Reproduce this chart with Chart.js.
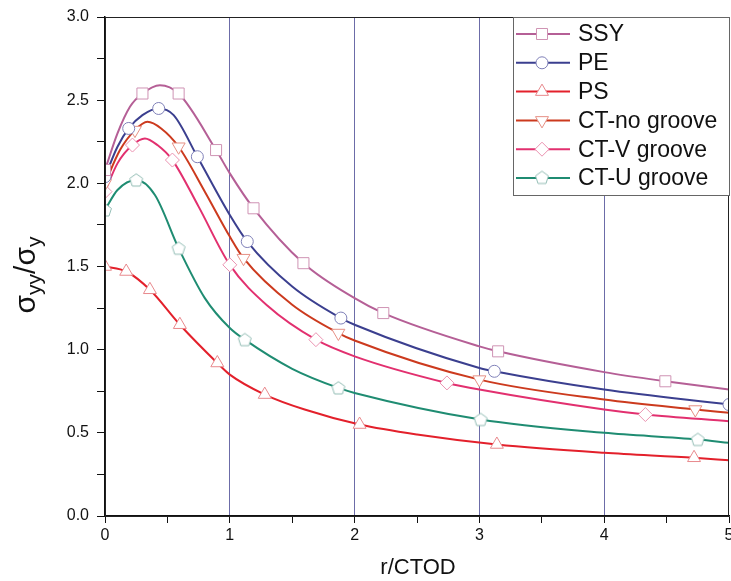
<!DOCTYPE html>
<html>
<head>
<meta charset="utf-8">
<script src="https://cdn.jsdelivr.net/npm/chart.js@4/dist/chart.umd.min.js"></script>
<style>
  html, body { margin: 0; padding: 0; background: #fff; }
  canvas { display: block; }
</style>
</head>
<body>
<canvas id="chart" width="731" height="581"></canvas>
<script>
// values (r/CTOD , sigma_yy/sigma_y)
const seriesNames = ['SSY', 'PE', 'PS', 'CT-no groove', 'CT-V groove', 'CT-U groove'];

const ssyX = [0, 0.1, 0.2, 0.3, 0.44, 0.59, 0.89, 1.0, 1.19, 1.59, 2.0, 2.23, 3.0, 3.15, 4.0, 4.49, 5];
const ssyY = [2.08, 2.30, 2.46, 2.54, 2.59, 2.54, 2.20, 2.06, 1.85, 1.52, 1.31, 1.22, 1.02, 0.99, 0.865, 0.81, 0.76];
const ssyMarks = [0, 0.3, 0.59, 0.89, 1.19, 1.59, 2.23, 3.15, 4.49];

const peX = [0, 0.1, 0.19, 0.3, 0.43, 0.55, 0.74, 1.0, 1.14, 1.5, 1.89, 2.0, 3.0, 3.12, 4.0, 5];
const peY = [2.04, 2.22, 2.33, 2.41, 2.45, 2.41, 2.16, 1.81, 1.65, 1.38, 1.19, 1.15, 0.89, 0.87, 0.76, 0.67];
const peMarks = [0, 0.19, 0.43, 0.74, 1.14, 1.89, 3.12, 5];

const psX = [0, 0.17, 0.36, 0.6, 0.9, 1.0, 1.28, 1.6, 2.04, 2.5, 3.14, 4.0, 4.72, 5];
const psY = [1.50, 1.47, 1.36, 1.15, 0.92, 0.85, 0.73, 0.64, 0.55, 0.49, 0.43, 0.38, 0.35, 0.335];
const psMarks = [0, 0.17, 0.36, 0.6, 0.9, 1.28, 2.04, 3.14, 4.72];

const ctnX = [0, 0.12, 0.24, 0.34, 0.45, 0.59, 0.8, 1.0, 1.11, 1.5, 1.87, 2.0, 3.0, 4.0, 4.73, 5];
const ctnY = [2.00, 2.20, 2.32, 2.37, 2.33, 2.22, 1.95, 1.68, 1.55, 1.27, 1.10, 1.055, 0.82, 0.70, 0.64, 0.62];
const ctnMarks = [0, 0.24, 0.59, 1.11, 1.87, 3.0, 4.73];

const ctvX = [0, 0.1, 0.22, 0.32, 0.42, 0.54, 0.75, 1.0, 1.3, 1.69, 2.0, 2.74, 3.0, 4.0, 4.33, 5];
const ctvY = [1.95, 2.12, 2.23, 2.27, 2.23, 2.14, 1.86, 1.51, 1.265, 1.06, 0.96, 0.80, 0.76, 0.64, 0.61, 0.57];
const ctvMarks = [0, 0.22, 0.54, 1.0, 1.69, 2.74, 4.33];

const ctuX = [0, 0.1, 0.25, 0.4, 0.59, 0.8, 1.0, 1.12, 1.5, 1.87, 2.0, 3.01, 4.0, 4.75, 5];
const ctuY = [1.84, 1.96, 2.02, 1.93, 1.61, 1.31, 1.13, 1.06, 0.885, 0.77, 0.74, 0.58, 0.50, 0.46, 0.44];
const ctuMarks = [0, 0.25, 0.59, 1.12, 1.87, 3.01, 4.75];

const xTicks = [0, 1, 2, 3, 4, 5];
const yTicks = [0.0, 0.5, 1.0, 1.5, 2.0, 2.5, 3.0];

const FONT = '"Liberation Sans", Arial, sans-serif';

// pentagon marker, Chart.js has no such point style
function pentagonCanvas(color) {
    const c = document.createElement('canvas');
    c.width = 16; c.height = 16;
    const g = c.getContext('2d');
    g.beginPath();
    for (let i = 0; i < 5; i++) {
        const a = -Math.PI / 2 + i * 2 * Math.PI / 5;
        const px = 8 + 6.8 * Math.cos(a), py = 8.5 + 6.8 * Math.sin(a);
        if (i === 0) g.moveTo(px, py); else g.lineTo(px, py);
    }
    g.closePath();
    g.fillStyle = '#fff';
    g.fill();
    g.strokeStyle = color;
    g.lineWidth = 1;
    g.stroke();
    return c;
}

const styles = [
    { line: '#b55f96', mark: '#cf93b4', pointStyle: 'rect', radius: 7.8, rotation: 0 },
    { line: '#3b3f8f', mark: '#7f80b8', pointStyle: 'circle', radius: 6, rotation: 0 },
    { line: '#e3202b', mark: '#e8898d', pointStyle: 'triangle', radius: 7.5, rotation: 0 },
    { line: '#cc3a1e', mark: '#e69085', pointStyle: 'triangle', radius: 7.5, rotation: 180 },
    { line: '#e2306f', mark: '#eb93b1', pointStyle: 'rectRot', radius: 7, rotation: 0 },
    { line: '#1f8c72', mark: '#93bdb5', pointStyle: null, radius: 8, rotation: 0 }
];
styles[5].pointStyle = pentagonCanvas(styles[5].mark);

const allX = [ssyX, peX, psX, ctnX, ctvX, ctuX];
const allY = [ssyY, peY, psY, ctnY, ctvY, ctuY];
const allMarks = [ssyMarks, peMarks, psMarks, ctnMarks, ctvMarks, ctuMarks];

const datasets = [];
seriesNames.forEach((name, i) => {
    const pts = allX[i].map((x, k) => ({ x: x, y: allY[i][k] }));
    const st = styles[i];
    datasets.push({
        label: name,
        data: pts,
        borderColor: st.line,
        borderWidth: 2,
        pointRadius: 0,
        fill: false,
        cubicInterpolationMode: 'monotone',
        order: 1
    });
    datasets.push({
        label: name + ' markers',
        data: allMarks[i].map(mx => pts[allX[i].indexOf(mx)]),
        showLine: false,
        pointStyle: st.pointStyle,
        pointRadius: st.radius,
        pointRotation: st.rotation,
        pointBackgroundColor: '#fff',
        pointBorderColor: st.mark,
        pointBorderWidth: 1,
        order: 0
    });
});

function drawMarker(ctx, st, x, y) {
    if (typeof st.pointStyle !== 'string') {
        ctx.drawImage(st.pointStyle, x - 8, y - 8.5);
        return;
    }
    const r = st.radius;
    ctx.beginPath();
    if (st.pointStyle === 'rect') {
        const s = r * Math.SQRT1_2;
        ctx.rect(x - s, y - s, 2 * s, 2 * s);
    } else if (st.pointStyle === 'circle') {
        ctx.arc(x, y, r, 0, Math.PI * 2);
    } else if (st.pointStyle === 'triangle') {
        const dir = st.rotation ? -1 : 1;
        ctx.moveTo(x, y - dir * r);
        ctx.lineTo(x + r * 0.866, y + dir * r * 0.5);
        ctx.lineTo(x - r * 0.866, y + dir * r * 0.5);
        ctx.closePath();
    } else if (st.pointStyle === 'rectRot') {
        ctx.moveTo(x, y - r);
        ctx.lineTo(x + r, y);
        ctx.lineTo(x, y + r);
        ctx.lineTo(x - r, y);
        ctx.closePath();
    }
    ctx.fillStyle = '#fff';
    ctx.fill();
    ctx.strokeStyle = st.mark;
    ctx.lineWidth = 1;
    ctx.stroke();
}

const decorations = {
    id: 'decorations',
    afterDraw(chart) {
        const ctx = chart.ctx;
        const a = chart.chartArea;
        ctx.save();

        // frame
        ctx.strokeStyle = '#222';
        ctx.lineWidth = 1;
        ctx.strokeRect(a.left + 0.5, a.top + 0.5, a.right - a.left - 1, a.bottom - a.top);

        // legend box
        const lx = 513, ly = 17, lw = 216, lh = 178;
        ctx.fillStyle = '#fff';
        ctx.fillRect(lx, ly, lw, lh);
        ctx.strokeStyle = '#666';
        ctx.strokeRect(lx + 0.5, ly + 0.5, lw, lh);
        ctx.font = '23px ' + FONT;
        ctx.textBaseline = 'middle';
        seriesNames.forEach((name, i) => {
            const y = 34 + i * 28.8;
            ctx.strokeStyle = styles[i].line;
            ctx.lineWidth = 2;
            ctx.beginPath();
            ctx.moveTo(516, y);
            ctx.lineTo(570, y);
            ctx.stroke();
            drawMarker(ctx, styles[i], 542, y);
            ctx.fillStyle = '#111';
            ctx.fillText(name, 578, y + 1);
        });

        // x title
        ctx.fillStyle = '#111';
        ctx.textAlign = 'center';
        ctx.font = '22px ' + FONT;
        ctx.fillText('r/CTOD', 418, 568);

        // y title with subscripts
        ctx.translate(27, 275);
        ctx.rotate(-Math.PI / 2);
        const big = '30px ' + FONT, small = '21px ' + FONT;
        const parts = [['σ', big, 0], ['yy', small, 8], ['/σ', big, 0], ['y', small, 8]];
        let w = 0;
        parts.forEach(p => { ctx.font = p[1]; w += ctx.measureText(p[0]).width; });
        let x = -w / 2;
        ctx.textAlign = 'left';
        parts.forEach(p => {
            ctx.font = p[1];
            ctx.fillText(p[0], x, p[2]);
            x += ctx.measureText(p[0]).width;
        });
        ctx.restore();
    }
};

new Chart(document.getElementById('chart').getContext('2d'), {
    type: 'line',
    data: { datasets: datasets },
    options: {
        responsive: false,
        animation: false,
        layout: { autoPadding: false, padding: { top: 17, right: 2, left: 0, bottom: 0 } },
        plugins: { legend: { display: false }, tooltip: { enabled: false } },
        scales: {
            x: {
                type: 'linear',
                min: 0,
                max: 5,
                afterFit: s => { s.height = 65; s.paddingLeft = 0; s.paddingRight = 0; },
                afterBuildTicks: s => { s.ticks = [0, 0.5, 1, 1.5, 2, 2.5, 3, 3.5, 4, 4.5, 5].map(v => ({ value: v })); },
                ticks: {
                    autoSkip: false,
                    maxRotation: 0,
                    padding: 3,
                    color: '#111',
                    font: { family: FONT, size: 16 },
                    callback: v => xTicks.includes(v) ? String(v) : ''
                },
                grid: {
                    color: c => (c.tick && xTicks.includes(c.tick.value) && c.tick.value > 0 && c.tick.value < 5) ? '#6c6ca8' : 'rgba(0,0,0,0)',
                    tickColor: '#111',
                    tickLength: 7,
                    lineWidth: 1
                },
                border: { color: '#111', width: 1.5 }
            },
            y: {
                min: 0,
                max: 3,
                afterFit: s => { s.width = 105; s.paddingTop = 0; s.paddingBottom = 0; },
                afterBuildTicks: s => { s.ticks = [0, 0.25, 0.5, 0.75, 1, 1.25, 1.5, 1.75, 2, 2.25, 2.5, 2.75, 3].map(v => ({ value: v })); },
                ticks: {
                    autoSkip: false,
                    padding: 8,
                    color: '#111',
                    font: { family: FONT, size: 16 },
                    callback: v => yTicks.includes(v) ? v.toFixed(1) : ''
                },
                grid: {
                    drawOnChartArea: false,
                    tickColor: '#111',
                    tickLength: 8,
                    lineWidth: 1
                },
                border: { color: '#111', width: 1.5 }
            }
        }
    },
    plugins: [decorations]
});
</script>
</body>
</html>
